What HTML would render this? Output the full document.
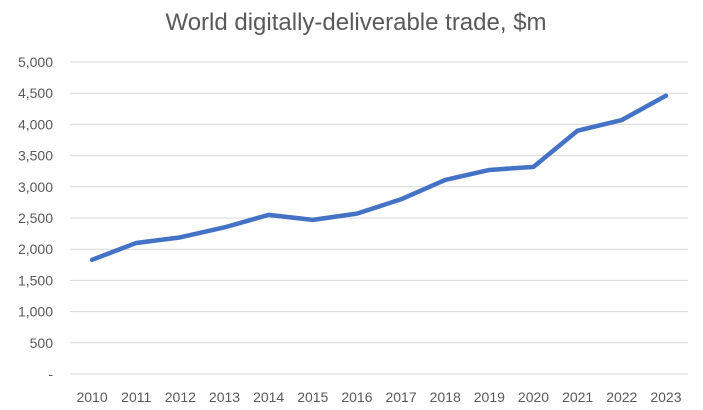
<!DOCTYPE html>
<html><head><meta charset="utf-8"><style>
body{margin:0;background:#fff;}
svg{display:block;font-family:"Liberation Sans",Calibri,sans-serif;}
</style></head><body>
<svg id="chart" width="703" height="410">
<text x="356" y="30" text-anchor="middle" font-size="24" fill="#595959">World digitally-deliverable trade, $m</text>
<g id="grid"></g><g id="yt"></g><g id="xt"></g><g id="series"></g>
</svg>
<script>
const years=["2010","2011","2012","2013","2014","2015","2016","2017","2018","2019","2020","2021","2022","2023"];
const values=[1830,2100,2190,2350,2550,2470,2570,2800,3110,3270,3320,3900,4070,4460];
const yTicks=[0,500,1000,1500,2000,2500,3000,3500,4000,4500,5000];
const yLabels=["-","500","1,000","1,500","2,000","2,500","3,000","3,500","4,000","4,500","5,000"];
const ns="http://www.w3.org/2000/svg";
const L=70,R=688,T=62,B=374;
const xs=i=>L+(R-L)/years.length*(i+0.5);
const ys=v=>B-(v/5000)*(B-T);
function mk(tag,attrs,parent){const e=document.createElementNS(ns,tag);for(const k in attrs)e.setAttribute(k,attrs[k]);document.getElementById(parent).appendChild(e);return e;}
yTicks.forEach((t,i)=>{
 const g=mk("line",{x1:L,x2:R,y1:ys(t),y2:ys(t),stroke:"#d9d9d9","stroke-width":1},"grid");
 
 
 const tx=mk("text",{x:53,y:ys(t)+5,"text-anchor":"end","font-size":14,fill:"#595959"},"yt");
 tx.textContent=yLabels[i];
 
 
});
years.forEach((y,i)=>{
 const tx=mk("text",{x:xs(i),y:402,"text-anchor":"middle","font-size":14,fill:"#595959"},"xt");
 tx.textContent=y;
 
 
});
const p=mk("polyline",{points:values.map((v,i)=>xs(i)+","+ys(v)).join(" "),fill:"none",stroke:"#4472c4","stroke-width":4.5,"stroke-linejoin":"round","stroke-linecap":"round"},"series");


</script>
</body></html>
